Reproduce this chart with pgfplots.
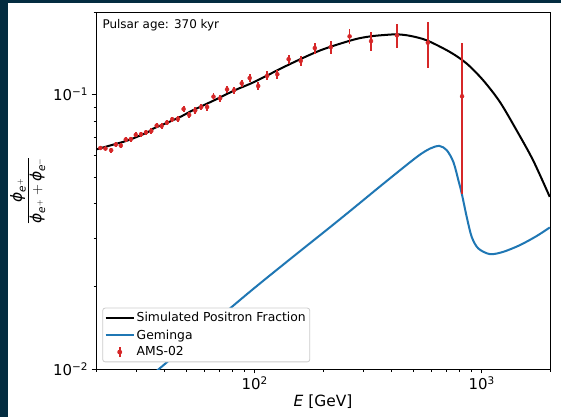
\documentclass[border=0pt]{standalone}
\usepackage{pgfplots}
\pgfplotsset{compat=1.18}
\usepackage{fontspec}
\setmainfont{DejaVu Sans}
\definecolor{tabred}{HTML}{D62728}
\definecolor{tabblue}{HTML}{1F77B4}
\definecolor{navyedge}{RGB}{3,44,64}
\definecolor{leggray}{HTML}{CCCCCC}
\newcommand\ephi{\mbox{\itshape ϕ}}
\newcommand\se{\mbox{\fontsize{10.5}{12}\selectfont\itshape e}}
\begin{document}
\begin{tikzpicture}
\fill[navyedge] (-96bp,-48bp) rectangle (465bp,369bp);
\fill[white] (-88bp,-48bp) rectangle (465bp,366bp);
\begin{axis}[
  at={(0,0)}, anchor=south west,
  scale only axis, width=454bp, height=357bp,
  xmode=log, ymode=log,
  xmin=20, xmax=2000, ymin=0.01, ymax=0.2,
  axis line style={line width=0.9bp},
  tick align=outside, xtick pos=bottom, ytick pos=left,
  major tick length=4.5bp, minor tick length=2.5bp,
  tick style={black, line width=0.9bp},
  minor tick style={line width=0.7bp},
  xtick={100,1000}, xticklabels={10\textsuperscript{2},10\textsuperscript{3}},
  minor xtick={20,30,40,50,60,70,80,90,200,300,400,500,600,700,800,900,2000},
  ytick={0.01,0.1}, yticklabels={10\textsuperscript{−2},10\textsuperscript{−1}},
  minor ytick={0.02,0.03,0.04,0.05,0.06,0.07,0.08,0.09,0.2},
  ticklabel style={font=\fontsize{15}{18}\selectfont},
  xlabel={{\itshape E} [GeV]},
  xlabel style={at={(rel axis cs:0.5,-0.1056)}, anchor=base, font=\fontsize{15.5}{18}\selectfont},
  ylabel={$\displaystyle\frac{\ephi_{\se^{+}}}{\ephi_{\se^{+}}+\ephi_{\se^{-}}}$},
  ylabel style={at={(rel axis cs:-0.1504,0.5)}, anchor=center, font=\fontsize{15.5}{18}\selectfont},
  legend style={at={(rel axis cs:0.0139,0.0188)}, anchor=south west,
    draw=leggray, rounded corners=2.5bp, fill=white, line width=0.8bp,
    inner xsep=2bp, inner ysep=2.5bp, row sep=2.2bp,
    font=\fontsize{12.4}{14}\selectfont,
    nodes={inner sep=2bp}},
  legend cell align=left,
]
\addlegendimage{black, line width=2bp, legend image code/.code={\draw[black, line width=2bp] (0bp,0bp) -- (28bp,0bp);}}
\addlegendimage{tabblue, line width=2bp, legend image code/.code={\draw[tabblue, line width=2bp] (0bp,0bp) -- (28bp,0bp);}}
\addlegendimage{tabred, legend image code/.code={\draw[tabred, line width=1.8bp] (14bp,-5bp) -- (14bp,5bp); \fill[tabred] (14bp,0bp) circle (2bp);}}

\addplot[black, line width=2bp, smooth, forget plot] coordinates {
(20,0.0631) (23.32,0.0654) (27.78,0.0682) (34.0,0.0731) (35.76,0.0752)
(40.66,0.0786) (47.65,0.0834) (52.72,0.0872) (66.27,0.0953) (81.68,0.1037)
(99.3,0.1111) (139.2,0.1278) (194.9,0.1450) (273.0,0.1586) (323.2,0.1630)
(369.8,0.1648) (423.3,0.1658) (484.2,0.1637) (573.6,0.1576) (725.6,0.1429)
(859.4,0.1297) (1016,0.1127) (1203,0.0940) (1425,0.0741) (1685,0.0576) (1995,0.0424)
};
\addplot[tabblue, line width=2bp, smooth, forget plot] coordinates {
(30,0.00853) (37.88,0.0100) (96.0,0.01923) (234.6,0.03486) (369.8,0.04742)
(518.1,0.05927) (592.9,0.0636) (651.4,0.0650) (702,0.0627) (750.5,0.0568)
(789.3,0.0488) (817,0.0436) (859.4,0.0358) (903.9,0.0303) (966.3,0.0275)
(1088,0.02622) (1244,0.02673) (1473,0.02827) (1744,0.0305) (1995,0.03279)
};
\addplot[tabred, only marks, mark=*, mark size=2bp, forget plot,
  error bars/.cd, y dir=both, y explicit,
  error bar style={tabred, line width=1.8bp}, error mark=none]
  table[x=x, y=y, y error=e] {
x y e
20.92 0.0639 0.0012
22.01 0.0636 0.0012
23.32 0.0627 0.0012
24.45 0.0658 0.0013
25.72 0.0652 0.0013
27.05 0.0686 0.0014
28.46 0.0688 0.0014
29.94 0.0713 0.0015
31.57 0.0717 0.0015
33.21 0.0729 0.0016
35.04 0.0737 0.0016
37.01 0.0771 0.0017
38.93 0.0769 0.0018
41.07 0.0791 0.0018
43.34 0.0813 0.0019
45.90 0.0815 0.0020
48.63 0.0886 0.0021
51.46 0.0843 0.0022
54.68 0.0875 0.0023
58.10 0.0901 0.0025
61.73 0.0901 0.0026
65.86 0.0983 0.0028
70.41 0.0969 0.0029
75.56 0.1045 0.0031
81.10 0.1037 0.0033
87.69 0.1099 0.0035
95.06 0.1149 0.0037
103.6 0.1075 0.0036
113.5 0.1171 0.0045
125.8 0.1186 0.0048
141.1 0.1346 0.0054
159.6 0.1327 0.0061
184.0 0.1478 0.0068
216.3 0.1489 0.0079
261.9 0.1630 0.0098
325.5 0.1567 0.0120
423.4 0.1644 0.0170
579.3 0.1546 0.0300
819.4 0.0986 0.0550
};
\node[anchor=base west, inner sep=0pt, font=\fontsize{12}{14}\selectfont] at (rel axis cs:0.0139,0.954) {Pulsar age: 370 kyr};
\legend{Simulated Positron Fraction, Geminga, AMS-02}
\end{axis}
\end{tikzpicture}
\end{document}
